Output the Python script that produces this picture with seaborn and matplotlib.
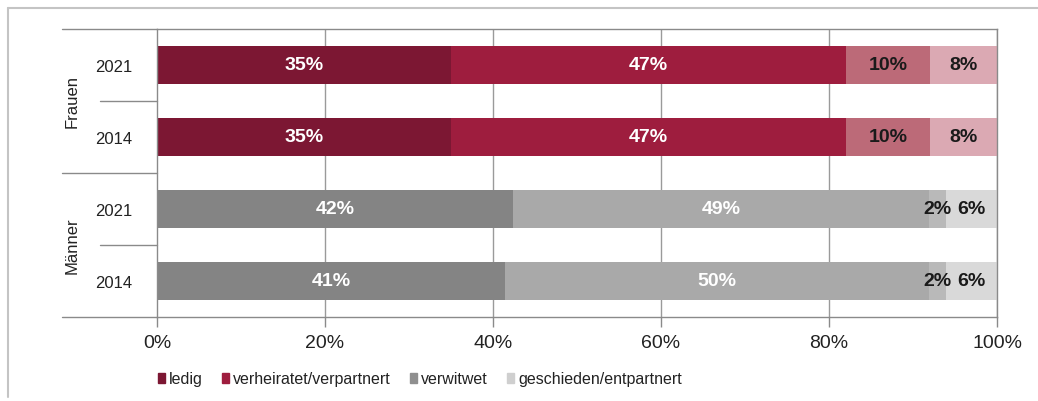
import pandas as pd
import matplotlib.pyplot as plt
import matplotlib.patches as mpatches
import matplotlib.lines as mlines
import seaborn as sns

# data
categories = ["ledig", "verheiratet/verpartnert", "verwitwet", "geschieden/entpartnert"]
groups = ["Frauen", "Frauen", "Männer", "Männer"]
years = ["2021", "2014", "2021", "2014"]
ledig = [35, 35, 42, 41]
verheiratet = [47, 47, 49, 50]
verwitwet = [10, 10, 2, 2]
geschieden = [8, 8, 6, 6]

# colours per category for women (reds) and men (greys)
red_colors = ["#7c1733", "#9e1d3e", "#bc6a78", "#dba9b3"]
grey_colors = ["#848484", "#a9a9a9", "#b9b9b9", "#d9d9d9"]
legend_colors = ["#7c1733", "#9e1d3e", "#8f8f8f", "#cfcfcf"]
label_colors = ["white", "white", "#1a1a1a", "#1a1a1a"]

sns.set_theme(style="white")
plt.rcParams['font.family'] = ['Liberation Sans', 'DejaVu Sans']

data = pd.DataFrame({
    "row": [g + " " + y for g, y in zip(groups, years)],
    "group": groups,
    "year": years,
    "ledig": ledig,
    "verheiratet": verheiratet,
    "verwitwet": verwitwet,
    "geschieden": geschieden,
})
cols = ["ledig", "verheiratet", "verwitwet", "geschieden"]
total = data[cols].sum(axis=1)
# shares scaled so each bar fills 100 %
for c in cols:
    data[c + "_share"] = data[c] / total * 100
shares = data[[c + "_share" for c in cols]].cumsum(axis=1)
shares.columns = ["cum_" + c for c in cols]
data = pd.concat([data, shares], axis=1)

fig = plt.figure(figsize=(10.38, 4.02), dpi=100)
ax = fig.add_axes([157 / 1038, 1 - 318 / 402, 840 / 1038, 288 / 402])

# vertical gridlines behind bars
for xv in [20, 40, 60, 80, 100]:
    ax.axvline(xv, color="#9a9a9a", lw=1, zorder=0)

# stacked bars: draw cumulative totals from the outside in
for i in range(len(cols) - 1, -1, -1):
    sns.barplot(data=data, x="cum_" + cols[i], y="row", hue="group",
                palette={"Frauen": red_colors[i], "Männer": grey_colors[i]},
                dodge=False, width=0.53, saturation=1, linewidth=0,
                legend=False, ax=ax, zorder=2)

# value labels
for r in range(len(data)):
    start = 0
    for i, c in enumerate(cols):
        w = data[c + "_share"].iloc[r]
        ax.text(start + w / 2, r, f"{data[c].iloc[r]}%", ha="center", va="center",
                color=label_colors[i], fontsize=14, fontweight="bold", zorder=5)
        start += w

ax.set_xlim(0, 100)
ax.set_ylim(3.5, -0.5)
ax.set_xticks([0, 20, 40, 60, 80, 100])
ax.set_xticklabels([f"{t}%" for t in [0, 20, 40, 60, 80, 100]], fontsize=14, color="#222222")
ax.set_yticks(range(len(years)))
ax.set_yticklabels(years, fontsize=12, color="#222222")
ax.tick_params(axis="x", direction="out", length=7, width=1, color="#8a8a8a", pad=5, bottom=True)
ax.tick_params(axis="y", length=0, pad=18)
ax.set_xlabel("")
ax.set_ylabel("")

for side in ["top", "bottom", "left", "right"]:
    ax.spines[side].set_color("#8a8a8a")
    ax.spines[side].set_linewidth(1)

# group separators and group labels on the left
trans = ax.get_yaxis_transform()
for yv in [-0.5, 1.5, 3.5]:
    ax.plot([-0.113, 0], [yv, yv], color="#8a8a8a", lw=1, transform=trans, clip_on=False)
for yv in [0.5, 2.5]:
    ax.plot([-0.068, 0], [yv, yv], color="#8a8a8a", lw=1, transform=trans, clip_on=False)
ax.text(-0.101, 0.5, "Frauen", rotation=90, ha="center", va="center", fontsize=12,
        color="#222222", transform=trans)
ax.text(-0.101, 2.5, "Männer", rotation=90, ha="center", va="center", fontsize=12,
        color="#222222", transform=trans)

# legend
handles = [mpatches.Patch(color=col, label=lab) for col, lab in zip(legend_colors, categories)]
fig.legend(handles=handles, loc="center", bbox_to_anchor=(420 / 1038, 1 - 380 / 402),
           ncol=4, frameon=False, fontsize=11.5,
           handlelength=0.45, handleheight=0.6, handletextpad=0.25, columnspacing=1.2,
           labelcolor="#222222")

# light frame around the chart
fig.add_artist(mlines.Line2D([8 / 1038, 1], [1 - 9 / 402, 1 - 9 / 402], color="#c4c4c4", lw=1.5))
fig.add_artist(mlines.Line2D([8 / 1038, 8 / 1038], [1 - 9 / 402, 0.01], color="#c4c4c4", lw=1.5))

fig.savefig("out.png", dpi=100)
